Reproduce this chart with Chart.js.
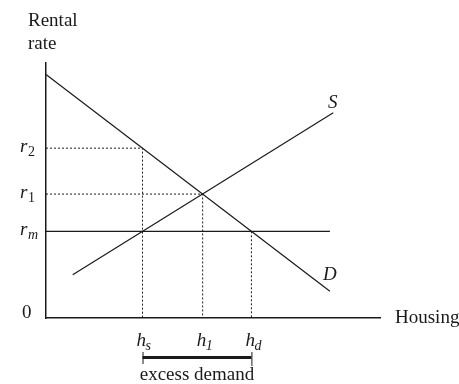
<!DOCTYPE html>
<html>
<head>
<meta charset="utf-8">
<script src="https://cdn.jsdelivr.net/npm/chart.js@4"></script>
<style>
  html, body { margin: 0; padding: 0; background: #fff; }
  #wrap { width: 459px; height: 384px; position: relative; }
</style>
</head>
<body>
<div id="wrap"><canvas id="rentChart"></canvas></div>
<script>
// rental rates on the vertical axis (r2, r1, rm, 0)
const rateValues = [66.6, 48.6, 34, 0];
const rateNames = [['r', '2'], ['r', '1'], ['r', 'm'], ['0', '']];
// housing quantities on the horizontal axis (hs, h1, hd)
const housingValues = [28.9, 46.9, 61.5];
const housingNames = [['h', 's'], ['h', '1'], ['h', 'd']];
// demand and supply curves, rent ceiling
const demandX = [0, 85];
const demandY = [95.5, 10.5];
const supplyX = [8, 86];
const supplyY = [17, 80.5];
const ceilingX = [0, 85];
const ceilingY = [34, 34];

const ink = '#1a1a1a';
const serif = '"Liberation Serif", "DejaVu Serif", serif';

function pts(xs, ys) {
    return xs.map((x, i) => ({ x: x, y: ys[i] }));
}

// dotted guide lines built from the values above
const guides = [
    pts([0, housingValues[0], housingValues[0]], [rateValues[0], rateValues[0], 0]),
    pts([0, housingValues[1], housingValues[1]], [rateValues[1], rateValues[1], 0]),
    pts([housingValues[2], housingValues[2]], [rateValues[2], 0])
];

const solid = (data) => ({
    data: data, borderColor: ink, borderWidth: 1.2,
    pointRadius: 0, showLine: true, tension: 0, clip: false
});
const dotted = (data) => ({
    data: data, borderColor: ink, borderWidth: 1,
    borderDash: [2, 2], pointRadius: 0, showLine: true, tension: 0, clip: false
});

// labels drawn next to the axes at scale positions
const labelPlugin = {
    id: 'labels',
    afterDraw(c) {
        const ctx = c.ctx;
        const xs = c.scales.x, ys = c.scales.y;
        ctx.save();
        ctx.fillStyle = ink;
        ctx.textBaseline = 'alphabetic';

        ctx.font = '19px ' + serif;
        ctx.fillText('Rental', 28, 26);
        ctx.fillText('rate', 28, 49);
        ctx.fillText('Housing', 395, 323);

        // vertical axis labels
        rateValues.forEach((v, i) => {
            const y = ys.getPixelForValue(v);
            const [main, sub] = rateNames[i];
            if (sub === '') {
                ctx.font = '19px ' + serif;
                ctx.fillText(main, 22, y);
                return;
            }
            ctx.font = 'italic 19px ' + serif;
            ctx.fillText(main, 20, y + 4);
            ctx.font = (sub === 'm' ? 'italic ' : '') + '14px ' + serif;
            ctx.fillText(sub, 28, y + 8);
        });

        // horizontal axis labels
        housingValues.forEach((v, i) => {
            const x = xs.getPixelForValue(v);
            const [main, sub] = housingNames[i];
            ctx.font = 'italic 19px ' + serif;
            ctx.fillText(main, x - 6, 346);
            ctx.font = 'italic 14px ' + serif;
            ctx.fillText(sub, x + 3, 350);
        });

        // curve names
        ctx.font = 'italic 19px ' + serif;
        ctx.fillText('S', 328, 108);
        ctx.fillText('D', 323, 280);

        // excess demand bar between hs and hd
        const x0 = xs.getPixelForValue(housingValues[0]);
        const x1 = xs.getPixelForValue(housingValues[2]);
        ctx.strokeStyle = ink;
        ctx.lineWidth = 3;
        ctx.beginPath();
        ctx.moveTo(x0, 357.5);
        ctx.lineTo(x1, 357.5);
        ctx.stroke();
        ctx.lineWidth = 1;
        ctx.beginPath();
        ctx.moveTo(x0 + 0.5, 352);
        ctx.lineTo(x0 + 0.5, 364);
        ctx.moveTo(x1 + 0.5, 352);
        ctx.lineTo(x1 + 0.5, 366);
        ctx.stroke();

        ctx.font = '19px ' + serif;
        ctx.textAlign = 'center';
        ctx.fillText('excess demand', (x0 + x1) / 2, 380);
        ctx.restore();
    }
};

const ctx = document.getElementById('rentChart').getContext('2d');
new Chart(ctx, {
    type: 'scatter',
    data: {
        datasets: [
            solid(pts(demandX, demandY)),
            solid(pts(supplyX, supplyY)),
            solid(pts(ceilingX, ceilingY)),
            ...guides.map(dotted)
        ]
    },
    options: {
        responsive: true,
        maintainAspectRatio: false,
        animation: false,
        events: [],
        layout: { padding: { left: 38, right: 79, top: 63, bottom: 58 } },
        plugins: {
            legend: { display: false },
            tooltip: { enabled: false }
        },
        scales: {
            x: {
                type: 'linear', min: 0, max: 100,
                grid: { display: false },
                ticks: { display: false },
                border: { color: ink, width: 1.5 }
            },
            y: {
                type: 'linear', min: 0, max: 100,
                grid: { display: false },
                ticks: { display: false },
                border: { color: ink, width: 1.5 }
            }
        }
    },
    plugins: [labelPlugin]
});
</script>
</body>
</html>
